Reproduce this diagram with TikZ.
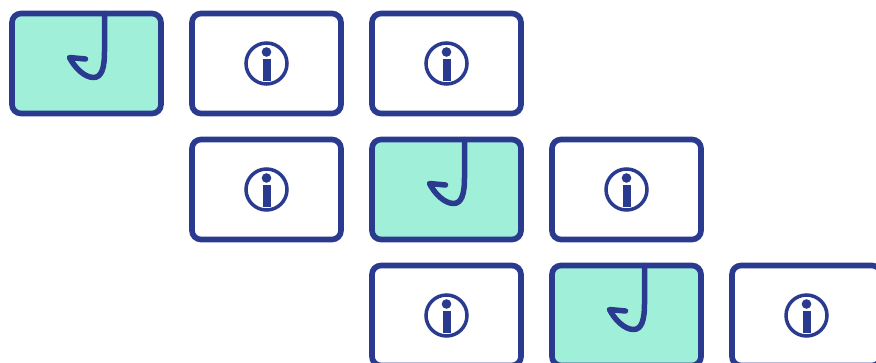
\documentclass[tikz,border=0pt]{standalone}
\usepackage{tikz}

\definecolor{cardblue}{HTML}{2A3B8F}
\definecolor{cardmint}{HTML}{A0EFD9}

\tikzset{
	card/.style={draw=cardblue, line width=.17cm, rounded corners=.27cm, minimum width=4.47cm, minimum height=3cm, inner sep=0pt, fill=white},
	cardon/.style={card, fill=cardmint},
	infoicon/.pic={
		\draw [cardblue, line width=.105cm] (0,0) circle (20.5);
		\fill [cardblue] (0,-11.5) circle (4.8);
		\fill [cardblue] (-4,-4.5) rectangle (4,17);
	},
	hookicon/.pic={
		\draw [cardblue, line width=.165cm, line cap=round, line join=round]
			(18,-50) -- (18,-12) .. controls (18,5) and (15,14) .. (7,14)
			.. controls (-2,14) and (-12,4) .. (-17,-6) -- (-1,-4.5);
	}
}

\begin{document}
\begin{tikzpicture}[x=.03cm, y=-.03cm]
\useasboundingbox (0,0) rectangle (876,362);
\clip (0,0) rectangle (876,362);

\path (86.5,63.5) node [cardon] (hooka) {}
		(266.5,63.5) node [card] (infoa) {}
		(446.5,63.5) node [card] (infob) {}
		(266.5,189.5) node [card] (infoc) {}
		(446.5,189.5) node [cardon] (hookb) {}
		(626.5,189.5) node [card] (infod) {}
		(446.5,315.5) node [card] (infoe) {}
		(626.5,315.5) node [cardon] (hookc) {}
		(806.5,315.5) node [card] (infof) {}
		;

\foreach \name in {infoa,infob,infoc,infod,infoe,infof}
	\pic at (\name) {infoicon};
\foreach \name in {hooka,hookb,hookc}
	\pic at (\name) {hookicon};
\end{tikzpicture}
\end{document}
